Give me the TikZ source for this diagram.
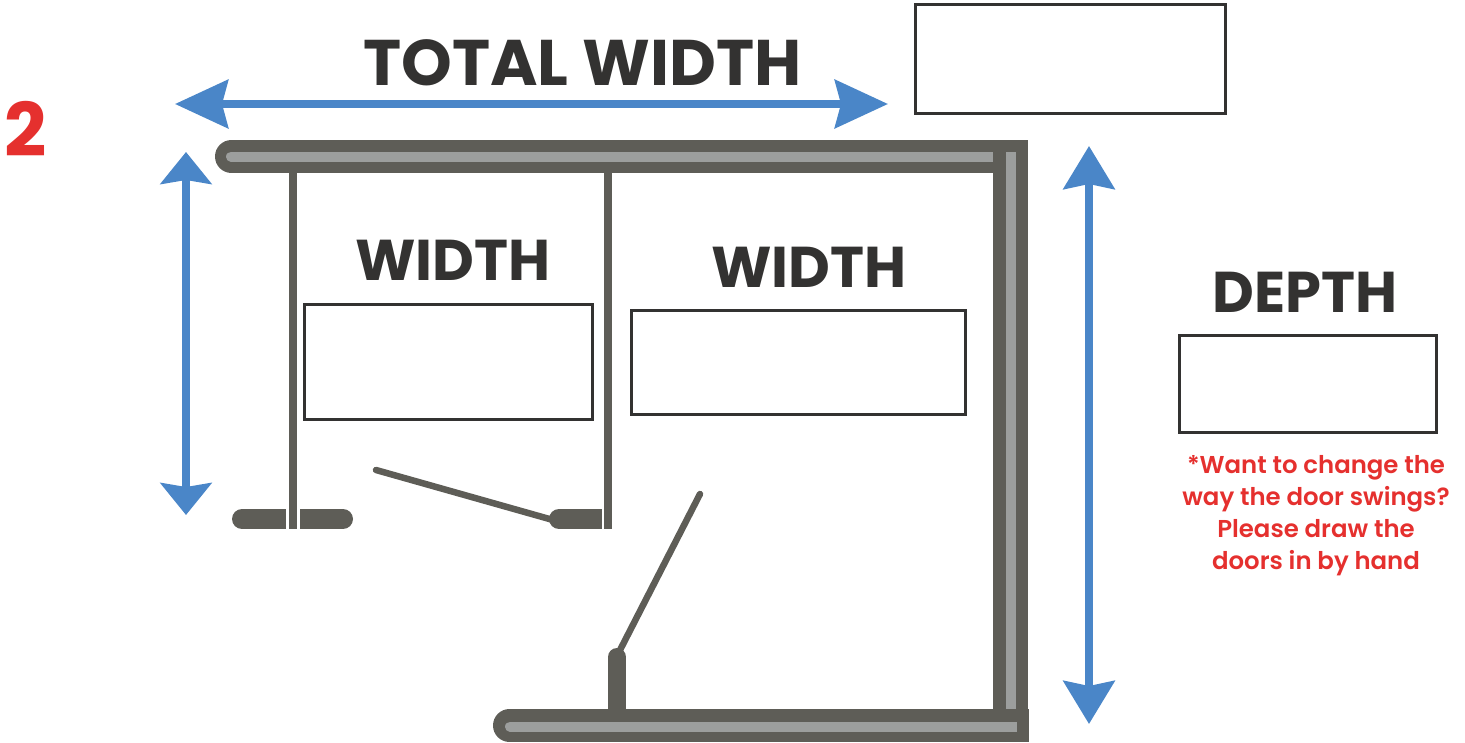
\documentclass[tikz,border=0pt]{standalone}
\usepackage{fontspec}
\setmainfont{Poppins}
\newfontfamily\notefont{Poppins SemiBold}
\usetikzlibrary{arrows.meta}
\definecolor{wallgray}{HTML}{5E5D57}
\definecolor{coregray}{HTML}{9C9E9D}
\definecolor{dimblue}{HTML}{4A86C8}
\definecolor{notered}{HTML}{E5302E}
\definecolor{inkgray}{HTML}{333231}
\tikzset{
    wall/.style = {draw=wallgray, line width=33pt},
    core/.style = {draw=coregray, line width=10pt},
    partition/.style = {draw=wallgray, line width=8pt},
    stub/.style = {draw=wallgray, line width=20pt},
    door/.style = {draw=wallgray, line width=6.5pt, line cap=round},
    dimwide/.style = {draw=dimblue, line width=8pt, {Stealth[length=53pt,width=48pt,inset=6pt]}-{Stealth[length=53pt,width=48pt,inset=6pt]}},
    dimtall/.style = {draw=dimblue, line width=8pt, {Stealth[length=43pt,width=51pt,inset=5pt]}-{Stealth[length=43pt,width=51pt,inset=5pt]}},
    dimshort/.style = {draw=dimblue, line width=8pt, {Stealth[length=32pt,width=51pt,inset=4pt]}-{Stealth[length=32pt,width=51pt,inset=4pt]}},
    entry/.style = {draw=inkgray, line width=3pt, fill=white, inner sep=0pt},
    heading/.style = {text=inkgray, font=\bfseries\fontsize{57.5}{57.5}\selectfont, inner sep=0pt},
    note/.style = {text=notered, font=\notefont\fontsize{24.4}{32}\selectfont, align=center, inner sep=0pt}
}
\begin{document}
\begin{tikzpicture}[x=1pt, y=-1pt]
    \useasboundingbox (0,0) rectangle (1465,742);
    % walls
    \draw [wall, line cap=round] (231.5,156.5) -- (1010,156.5);
    \draw [core, line cap=round] (231,156.5) -- (260,156.5);
    \draw [core] (250,156.5) -- (993,156.5);
    \draw [wall, line width=35pt] (1010.5,140) -- (1010.5,741);
    \draw [core] (1010.5,152) -- (1010.5,709);
    \draw [wall, line cap=round] (509.5,725.5) -- (1010,725.5);
    \draw [wall] (1000,725.5) -- (1028.5,725.5);
    \draw [core, line cap=round] (510,726.5) -- (540,726.5);
    \draw [core] (530,726.5) -- (1017,726.5);
    % partitions and door stubs
    \draw [partition] (293,170) -- (293,529);
    \draw [partition] (607.5,170) -- (607.5,529);
    \draw [stub, line cap=round] (242,519) -- (270,519);
    \draw [stub] (260,519) -- (286,519);
    \draw [stub, line cap=round] (343,519) -- (320,519);
    \draw [stub] (330,519) -- (300,519);
    \draw [stub, line cap=round] (559,519) -- (580,519);
    \draw [stub] (570,519) -- (602,519);
    \draw [wallgray, line width=18pt, line cap=round] (617,657) -- (617,680);
    \draw [wallgray, line width=18pt] (617,670) -- (617,712);
    % doors
    \coordinate (doorhingea) at (553,520);
    \coordinate (doorenda) at (376,470);
    \coordinate (doorhingeb) at (618,654);
    \coordinate (doorendb) at (700,494);
    \draw [door] (doorhingea) -- (doorenda);
    \draw [door] (doorhingeb) -- (doorendb);
    % dimension arrows
    \coordinate (totalleft) at (175,104);
    \coordinate (totalright) at (888,104);
    \coordinate (sidetop) at (186,152);
    \coordinate (sidebottom) at (186,515);
    \coordinate (depthtop) at (1089,146);
    \coordinate (depthbottom) at (1089,724);
    \draw [dimwide] (totalleft) -- (totalright);
    \draw [dimshort] (sidetop) -- (sidebottom);
    \draw [dimtall] (depthtop) -- (depthbottom);
    % entry boxes
    \node [entry, minimum width=309.5pt, minimum height=108.5pt] (totalbox) at (1070.7,59.2) {};
    \node [entry, minimum width=287.5pt, minimum height=114.5pt] (widthboxa) at (448.7,362.2) {};
    \node [entry, minimum width=333.5pt, minimum height=103.5pt] (widthboxb) at (798.7,362.7) {};
    \node [entry, minimum width=257pt, minimum height=96.5pt] (depthbox) at (1308,384.2) {};
    % labels
    \node [heading, font=\bfseries\fontsize{64.5}{64.5}\selectfont] (totallabel) at (582.5,62.5) {TOTAL WIDTH};
    \node [heading] (widthlabela) at (453,260) {WIDTH};
    \node [heading] (widthlabelb) at (809,267) {WIDTH};
    \node [heading] (depthlabel) at (1305,292.5) {DEPTH};
    \node [text=notered, font=\bfseries\fontsize{74}{74}\selectfont, inner sep=0pt] (steplabel) at (25.5,129) {2};
    \node [note] (swingnote) at (1316,515.5) {*Want to change the\\way the door swings?\\Please draw the\\doors in by hand};
\end{tikzpicture}
\end{document}
